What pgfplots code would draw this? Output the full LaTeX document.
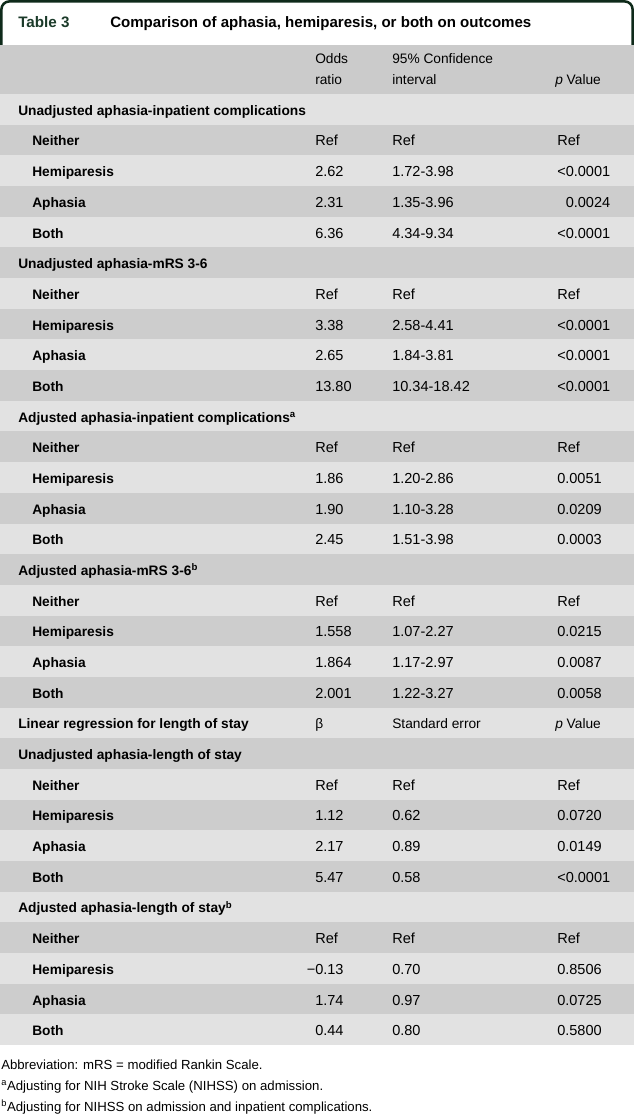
\documentclass[border=0pt]{standalone}
\usepackage{fontspec}
\setmainfont{Liberation Sans}
\usepackage{pgfplots}
\pgfplotsset{compat=1.18}
\definecolor{rowdark}{HTML}{CDCDCD}
\definecolor{rowlight}{HTML}{E2E2E2}
\definecolor{hdr}{HTML}{CBCBCB}
\definecolor{frame}{HTML}{0E2A1A}
\definecolor{tnum}{HTML}{1B3A29}
\newcommand\band[3]{\addplot[fill=#3,draw=none] coordinates {(0,#1)(634,#1)(634,#2)(0,#2)} -- cycle;}
\newcommand\T[3]{\node[anchor=base west,inner sep=0pt,font=\fontsize{10.3}{12}\selectfont] at (axis cs:#1,#2) {#3};}
\newcommand\N[3]{\node[anchor=base west,inner sep=0pt,font=\fontsize{10.9}{12}\selectfont] at (axis cs:#1,#2) {#3};}
\newcommand\F[3]{\node[anchor=base west,inner sep=0pt,font=\fontsize{9.9}{12}\selectfont] at (axis cs:#1,#2) {#3};}
\newcommand\G[2]{\T{18}{{94+(#1-1)*30.68+21.3}}{\bfseries #2}}
\newcommand\Rw[5]{%
  \T{32}{{94+(#1-1)*30.68+21.3}}{\bfseries #2}%
  \N{315}{{94+(#1-1)*30.68+21.3}}{#3}%
  \N{392}{{94+(#1-1)*30.68+21.3}}{#4}%
  \N{557}{{94+(#1-1)*30.68+21.3}}{#5}}
\begin{document}
\begin{tikzpicture}
\begin{axis}[scale only axis, width=475.5pt, height=837.75pt,
  xmin=0, xmax=634, ymin=0, ymax=1117, y dir=reverse,
  hide axis, clip=false, enlargelimits=false]
% frame of the title bar
\addplot[draw=frame, line width=1.9pt, rounded corners=6pt, mark=none] coordinates {(1.4,45)(1.4,1.4)(632.6,1.4)(632.6,45)};
% header and rows
\band{45}{94}{hdr}
\band{94}{1045.08}{rowlight}
\band{124.68}{155.36}{rowdark}
\band{186.04}{216.72}{rowdark}
\band{247.40}{278.08}{rowdark}
\band{308.76}{339.44}{rowdark}
\band{370.12}{400.80}{rowdark}
\band{431.48}{462.16}{rowdark}
\band{492.84}{523.52}{rowdark}
\band{554.20}{584.88}{rowdark}
\band{615.56}{646.24}{rowdark}
\band{676.92}{707.60}{rowdark}
\band{738.28}{768.96}{rowdark}
\band{799.64}{830.32}{rowdark}
\band{861.00}{891.68}{rowdark}
\band{922.36}{953.04}{rowdark}
\band{983.72}{1014.40}{rowdark}
% title
\node[anchor=base west,inner sep=0pt,font=\fontsize{11.4}{13}\selectfont\bfseries,text=tnum] at (axis cs:18,27) {Table 3};
\node[anchor=base west,inner sep=0pt,font=\fontsize{11.3}{13}\selectfont\bfseries] at (axis cs:110,27) {Comparison of aphasia, hemiparesis, or both on outcomes};
% column headers
\T{315}{63}{Odds}
\T{315}{84}{ratio}
\T{392}{63}{95\% Confidence}
\T{392}{84}{interval}
\T{555}{84}{\textit{p} Value}
% body
\G{1}{Unadjusted aphasia-inpatient complications}
\Rw{2}{Neither}{Ref}{Ref}{Ref}
\Rw{3}{Hemiparesis}{2.62}{1.72-3.98}{<0.0001}
\Rw{4}{Aphasia}{2.31}{1.35-3.96}{\hphantom{<}0.0024}
\Rw{5}{Both}{6.36}{4.34-9.34}{<0.0001}
\G{6}{Unadjusted aphasia-mRS 3-6}
\Rw{7}{Neither}{Ref}{Ref}{Ref}
\Rw{8}{Hemiparesis}{3.38}{2.58-4.41}{<0.0001}
\Rw{9}{Aphasia}{2.65}{1.84-3.81}{<0.0001}
\Rw{10}{Both}{13.80}{10.34-18.42}{<0.0001}
\G{11}{Adjusted aphasia-inpatient complications\textsuperscript{a}}
\Rw{12}{Neither}{Ref}{Ref}{Ref}
\Rw{13}{Hemiparesis}{1.86}{1.20-2.86}{0.0051}
\Rw{14}{Aphasia}{1.90}{1.10-3.28}{0.0209}
\Rw{15}{Both}{2.45}{1.51-3.98}{0.0003}
\G{16}{Adjusted aphasia-mRS 3-6\textsuperscript{b}}
\Rw{17}{Neither}{Ref}{Ref}{Ref}
\Rw{18}{Hemiparesis}{1.558}{1.07-2.27}{0.0215}
\Rw{19}{Aphasia}{1.864}{1.17-2.97}{0.0087}
\Rw{20}{Both}{2.001}{1.22-3.27}{0.0058}
\G{21}{Linear regression for length of stay}
\T{315}{{94+20*30.68+21.3}}{β}
\T{392}{{94+20*30.68+21.3}}{Standard error}
\T{555}{{94+20*30.68+21.3}}{\textit{p} Value}
\G{22}{Unadjusted aphasia-length of stay}
\Rw{23}{Neither}{Ref}{Ref}{Ref}
\Rw{24}{Hemiparesis}{1.12}{0.62}{0.0720}
\Rw{25}{Aphasia}{2.17}{0.89}{0.0149}
\Rw{26}{Both}{5.47}{0.58}{<0.0001}
\G{27}{Adjusted aphasia-length of stay\textsuperscript{b}}
\Rw{28}{Neither}{Ref}{Ref}{Ref}
\Rw{29}{Hemiparesis}{\llap{−}0.13}{0.70}{0.8506}
\Rw{30}{Aphasia}{1.74}{0.97}{0.0725}
\Rw{31}{Both}{0.44}{0.80}{0.5800}
% footnotes
\F{1}{1069}{Abbreviation: mRS = modified Rankin Scale.}
\F{1}{1090}{\textsuperscript{a}Adjusting for NIH Stroke Scale (NIHSS) on admission.}
\F{1}{1111}{\textsuperscript{b}Adjusting for NIHSS on admission and inpatient complications.}
\end{axis}
\pgfresetboundingbox
\path[use as bounding box] (current axis.south west) rectangle (current axis.north east);
\end{tikzpicture}
\end{document}
